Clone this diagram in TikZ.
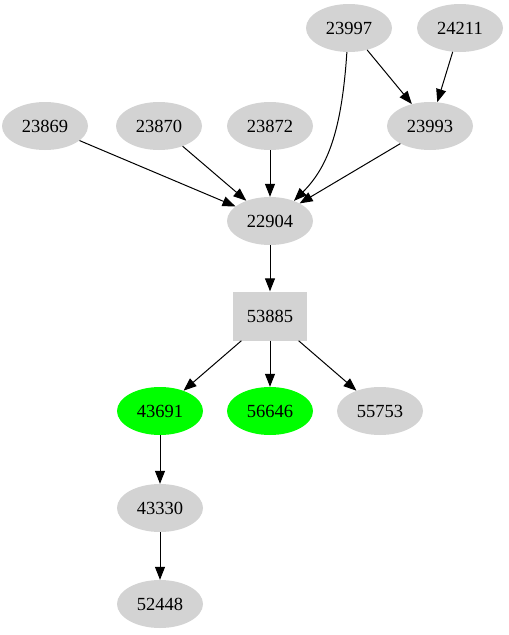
\documentclass[tikz,border=0pt]{standalone}
\usepackage{fontspec}
\setmainfont{Liberation Serif}
\usepackage{tikz}
\usetikzlibrary{shapes.geometric, arrows.meta}
\definecolor{gvgray}{RGB}{211,211,211}
\definecolor{gvgreen}{RGB}{0,255,0}
\tikzset{
  job/.style={ellipse, fill=gvgray, minimum width=86pt, minimum height=48pt, inner sep=0pt, font=\fontsize{18.5}{21}\selectfont},
  done/.style={job, fill=gvgreen},
  hub/.style={rectangle, fill=gvgray, minimum width=74pt, minimum height=49pt, inner sep=0pt, font=\fontsize{18.5}{21}\selectfont},
  dep/.style={line width=1pt, -{Triangle[length=13pt,width=10pt]}}
}
\begin{document}
\begin{tikzpicture}[x=1pt,y=-1pt]
\useasboundingbox (0,0) rectangle (509,635);
% top rows
\node[job] (n23997) at (349,28) {23997};
\node[job] (n24211) at (460,28) {24211};
\node[job] (n23869) at (45,126) {23869};
\node[job] (n23870) at (159,126) {23870};
\node[job] (n23872) at (270,126) {23872};
\node[job] (n23993) at (430,126) {23993};
\node[job] (n22904) at (270,221) {22904};
\node[hub] (n53885) at (270,316) {53885};
% lower rows
\node[done] (n43691) at (160,411) {43691};
\node[done] (n56646) at (270,411) {56646};
\node[job] (n55753) at (380,411) {55753};
\node[job] (n43330) at (160,508) {43330};
\node[job] (n52448) at (160,604) {52448};

\draw[dep] (n23997) -- (n23993);
\draw[dep] (n24211) -- (n23993);
\draw[dep] (n23997.-95) .. controls (342,125) and (330,165) .. (n22904.40);
\draw[dep] (n23869) -- (n22904);
\draw[dep] (n23870) -- (n22904);
\draw[dep] (n23872) -- (n22904);
\draw[dep] (n23993) -- (n22904);
\draw[dep] (n22904) -- (n53885);
\draw[dep] (n53885) -- (n43691);
\draw[dep] (n53885) -- (n56646);
\draw[dep] (n53885) -- (n55753);
\draw[dep] (n43691) -- (n43330);
\draw[dep] (n43330) -- (n52448);
\end{tikzpicture}
\end{document}
